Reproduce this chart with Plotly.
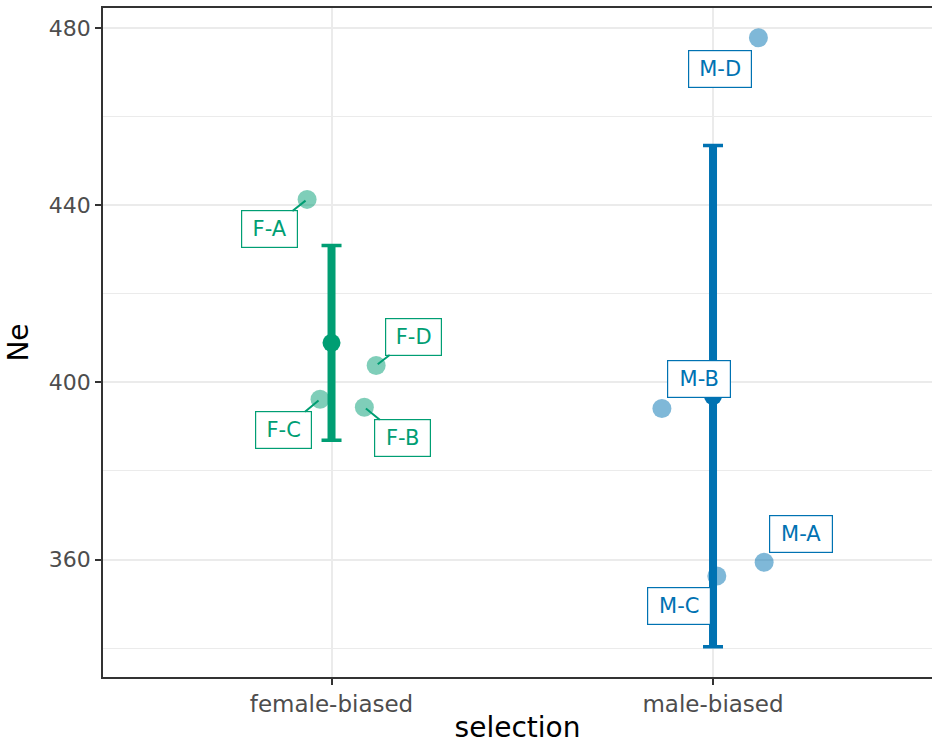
import numpy as np
import plotly.graph_objects as go

# Effective population size (Ne) per replicate line, grouped by selection regime
selection = ["female-biased", "male-biased"]
line_ids = [["F-A", "F-B", "F-C", "F-D"], ["M-A", "M-B", "M-C", "M-D"]]
ne_values = [[441.3, 394.4, 396.2, 403.8], [359.4, 394.1, 356.3, 477.8]]
# horizontal jitter applied to each replicate point
jitter = [[-0.064, 0.086, -0.030, 0.117], [0.134, -0.134, 0.010, 0.119]]

y_ticks = [360, 400, 440, 480]
y_minor = [340, 380, 420, 460]

# styling
colors = ["#009E73", "#0072B2"]
label_offsets = [[(-38, 30), (38, 31), (-37, 31), (37, -29)],
                 [(37, -28), (37, -30), (-38, 30), (-38, 31)]]
label_segment = [[True, True, True, True], [False, False, False, False]]
label_width = [47, 54]
BASE = "DejaVu Sans"

fig = go.Figure()

# replicate points
for g, name in enumerate(selection):
    xs = [g + 1 + j for j in jitter[g]]
    fig.add_trace(go.Scatter(
        x=xs, y=ne_values[g], mode="markers",
        marker=dict(size=19, color=colors[g], opacity=0.5, line=dict(width=0)),
        hoverinfo="skip", showlegend=False))

# mean +/- sd summaries
for g, name in enumerate(selection):
    vals = np.array(ne_values[g])
    m = vals.mean()
    sd = vals.std(ddof=1)
    fig.add_trace(go.Scatter(
        x=[g + 1, g + 1], y=[m - sd, m + sd], mode="lines",
        line=dict(color=colors[g], width=8), hoverinfo="skip", showlegend=False))
    fig.add_trace(go.Scatter(
        x=[g + 1], y=[m], mode="markers",
        marker=dict(size=18, color=colors[g]),
        error_y=dict(type="data", array=[sd], color=colors[g], thickness=3.5, width=10),
        hoverinfo="skip", showlegend=False))

# replicate labels
for g in range(len(selection)):
    for i, lab in enumerate(line_ids[g]):
        ax, ay = label_offsets[g][i]
        fig.add_annotation(
            x=g + 1 + jitter[g][i], y=ne_values[g][i], text=lab,
            showarrow=True, ax=ax, ay=ay, arrowhead=0,
            arrowwidth=2 if label_segment[g][i] else 0.1,
            arrowcolor=colors[g] if label_segment[g][i] else "rgba(0,0,0,0)",
            standoff=2,
            font=dict(family=BASE, size=21, color=colors[g]),
            bgcolor="white", bordercolor=colors[g], borderwidth=1.2,
            borderpad=4, width=label_width[g], height=28)

fig.update_layout(
    width=932, height=744,
    margin=dict(l=103, r=0, t=8, b=67),
    paper_bgcolor="white", plot_bgcolor="white",
    font=dict(family=BASE, color="#4D4D4D"),
)
fig.update_xaxes(
    range=[0.401, 2.574], tickmode="array", tickvals=[1, 2], ticktext=selection,
    showgrid=True, gridcolor="#EBEBEB", gridwidth=2, zeroline=False,
    showline=True, linecolor="#333333", linewidth=1.5, mirror=True,
    ticks="outside", ticklen=6, tickwidth=1.5, tickcolor="#333333",
    tickfont=dict(family=BASE, size=23, color="#4D4D4D"),
    title=dict(text="selection", font=dict(family=BASE, size=28, color="black"), standoff=7),
)
fig.update_yaxes(
    range=[333.5, 484.5], tickmode="array", tickvals=y_ticks,
    showgrid=True, gridcolor="#EBEBEB", gridwidth=2, zeroline=False,
    showline=True, linecolor="#333333", linewidth=1.5,
    ticks="outside", ticklen=6, tickwidth=1.5, tickcolor="#333333",
    tickfont=dict(family=BASE, size=22, color="#4D4D4D"),
    minor=dict(tickmode="array", tickvals=y_minor, showgrid=True,
               gridcolor="#EBEBEB", gridwidth=1, ticks=""),
    title=dict(text="Ne", font=dict(family=BASE, size=28, color="black"), standoff=12),
)

fig.write_html("out.html")
